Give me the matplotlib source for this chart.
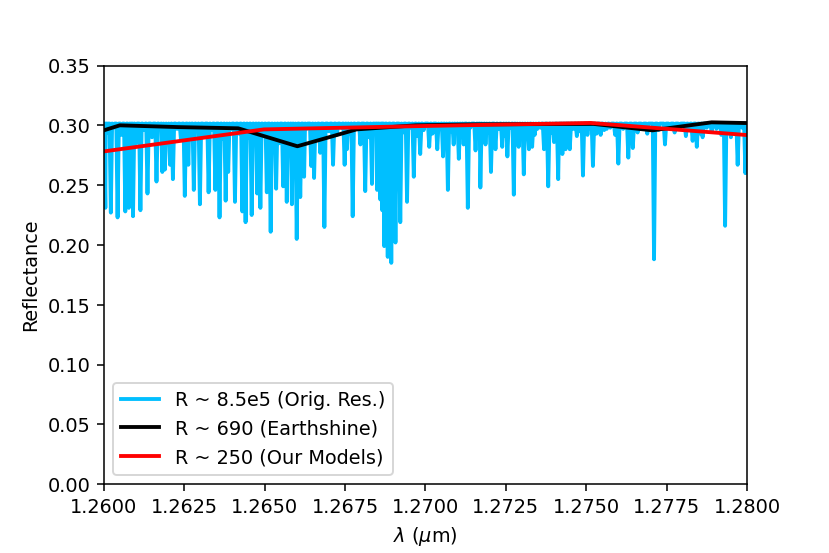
import matplotlib.pyplot as plt
import numpy as np

# high-res spectrum: continuum level plus absorption line minima
continuum = 0.3015
line_wl = [1.26005, 1.26022, 1.26043, 1.26067, 1.26078, 1.26091, 1.26114, 1.26136,
           1.26164, 1.26182, 1.26190, 1.26206, 1.26215, 1.26252, 1.26263, 1.26280,
           1.26299, 1.26326, 1.26347, 1.26360, 1.26379, 1.26387, 1.26408, 1.26431,
           1.26441, 1.26460, 1.26477, 1.26487, 1.26507, 1.26519, 1.26536, 1.26558,
           1.26569, 1.26585, 1.26600, 1.26611, 1.26623, 1.26645, 1.26654, 1.26673,
           1.26686, 1.26713, 1.26749, 1.26756, 1.26774, 1.26798, 1.26813, 1.26834,
           1.26850, 1.26860, 1.26866, 1.26872, 1.26883, 1.26894, 1.26907, 1.26922,
           1.26943, 1.26964, 1.26984, 1.27012, 1.27037, 1.27055, 1.27070, 1.27088,
           1.27104, 1.27119, 1.27132, 1.27156, 1.27171, 1.27187, 1.27204, 1.27218,
           1.27239, 1.27255, 1.27275, 1.27290, 1.27306, 1.27322, 1.27332, 1.27348,
           1.27369, 1.27382, 1.27400, 1.27413, 1.27426, 1.27436, 1.27449, 1.27471,
           1.27490, 1.27504, 1.27521, 1.27545, 1.27564, 1.27600, 1.27631, 1.27645,
           1.27711, 1.27745, 1.27831, 1.27844, 1.27862, 1.27932, 1.27950, 1.27971,
           1.27995]
line_min = [0.231, 0.227, 0.223, 0.228, 0.231, 0.224, 0.229, 0.243,
            0.253, 0.261, 0.263, 0.267, 0.255, 0.241, 0.267, 0.246,
            0.234, 0.244, 0.246, 0.223, 0.237, 0.261, 0.236, 0.228,
            0.219, 0.225, 0.243, 0.231, 0.244, 0.211, 0.247, 0.249,
            0.236, 0.234, 0.205, 0.240, 0.257, 0.266, 0.256, 0.277,
            0.215, 0.267, 0.267, 0.280, 0.224, 0.284, 0.245, 0.251,
            0.246, 0.238, 0.229, 0.199, 0.190, 0.185, 0.202, 0.219,
            0.236, 0.257, 0.276, 0.282, 0.280, 0.274, 0.246, 0.284,
            0.272, 0.284, 0.231, 0.279, 0.248, 0.284, 0.261, 0.280,
            0.282, 0.274, 0.242, 0.282, 0.259, 0.280, 0.282, 0.297,
            0.280, 0.249, 0.286, 0.255, 0.276, 0.280, 0.280, 0.291,
            0.258, 0.292, 0.266, 0.292, 0.297, 0.268, 0.273, 0.281,
            0.188, 0.284, 0.287, 0.282, 0.290, 0.216, 0.290, 0.267,
            0.260]
# weak lines forming the ragged top edge
weak_wl = [1.26010, 1.26030, 1.26055, 1.26085, 1.26100, 1.26125, 1.26150, 1.26175,
           1.26198, 1.26228, 1.26240, 1.26270, 1.26290, 1.26312, 1.26335, 1.26370,
           1.26395, 1.26420, 1.26450, 1.26470, 1.26497, 1.26528, 1.26545, 1.26578,
           1.26592, 1.26630, 1.26662, 1.26700, 1.26725, 1.26738, 1.26765, 1.26785,
           1.26825, 1.26845, 1.26930, 1.26955, 1.26975, 1.26995, 1.27022, 1.27045,
           1.27062, 1.27080, 1.27095, 1.27112, 1.27140, 1.27165, 1.27180, 1.27195,
           1.27228, 1.27248, 1.27265, 1.27282, 1.27298, 1.27314, 1.27340, 1.27358,
           1.27392, 1.27420, 1.27442, 1.27460, 1.27480, 1.27512, 1.27532, 1.27556,
           1.27575, 1.27590, 1.27615, 1.27660, 1.27675, 1.27690, 1.27725, 1.27760,
           1.27775, 1.27790, 1.27810, 1.27820, 1.27855, 1.27875, 1.27890, 1.27905,
           1.27920, 1.27942, 1.27960, 1.27985]
weak_min = [0.294, 0.298, 0.292, 0.297, 0.285, 0.296, 0.290, 0.298,
            0.293, 0.297, 0.288, 0.295, 0.299, 0.291, 0.296, 0.289,
            0.297, 0.293, 0.290, 0.296, 0.292, 0.298, 0.285, 0.294,
            0.290, 0.297, 0.288, 0.295, 0.292, 0.298, 0.293, 0.297,
            0.290, 0.296, 0.294, 0.298, 0.291, 0.296, 0.293, 0.299,
            0.288, 0.295, 0.297, 0.292, 0.298, 0.290, 0.296, 0.294,
            0.297, 0.291, 0.298, 0.295, 0.289, 0.296, 0.292, 0.298,
            0.294, 0.296, 0.291, 0.297, 0.295, 0.298, 0.293, 0.296,
            0.298, 0.292, 0.297, 0.294, 0.298, 0.293, 0.296, 0.298,
            0.294, 0.297, 0.291, 0.296, 0.293, 0.298, 0.295, 0.297,
            0.292, 0.296, 0.294, 0.298]

# degraded resolutions
es_wl = [1.25866, 1.26050, 1.26234, 1.26418, 1.26602, 1.26786, 1.26970,
         1.27154, 1.27338, 1.27522, 1.27706, 1.27890, 1.28074]
es_r = [0.2845, 0.3000, 0.2985, 0.2975, 0.2825, 0.2966, 0.3000,
        0.3008, 0.3010, 0.3012, 0.2958, 0.3025, 0.3015]
mod_wl = [1.25990, 1.26498, 1.27006, 1.27514, 1.28022]
mod_r = [0.2778, 0.2966, 0.2995, 0.3020, 0.2914]

hw = 0.00004
wl, r = [], []
for w, m in zip(line_wl + weak_wl, line_min + weak_min):
    wl += [w - hw, w, w + hw]
    r += [continuum, m, continuum]
order = np.argsort(wl)
wl = np.array(wl)[order]
r = np.array(r)[order]
wl = np.concatenate([[1.2598], wl, [1.2802]])
r = np.concatenate([[continuum], r, [continuum]])

fig, ax = plt.subplots(figsize=(6, 4), dpi=138.33)
fig.subplots_adjust(left=0.125, right=0.9, bottom=0.1245, top=0.881)
ax.plot(wl, r, color='deepskyblue', lw=2, label='R ~ 8.5e5 (Orig. Res.)')
ax.plot(es_wl, es_r, color='black', lw=2, label='R ~ 690 (Earthshine)')
ax.plot(mod_wl, mod_r, color='red', lw=2, label='R ~ 250 (Our Models)')
ax.set_xlim(1.26, 1.28)
ax.set_ylim(0, 0.35)
ax.set_xticks([1.26, 1.2625, 1.265, 1.2675, 1.27, 1.2725, 1.275, 1.2775, 1.28])
ax.set_xticklabels(['1.2600', '1.2625', '1.2650', '1.2675', '1.2700',
                    '1.2725', '1.2750', '1.2775', '1.2800'])
ax.set_xlabel(r'$\lambda$ ($\mu$m)')
ax.set_ylabel('Reflectance')
ax.legend(loc='lower left')
fig.savefig('out.png', dpi=138.33)
